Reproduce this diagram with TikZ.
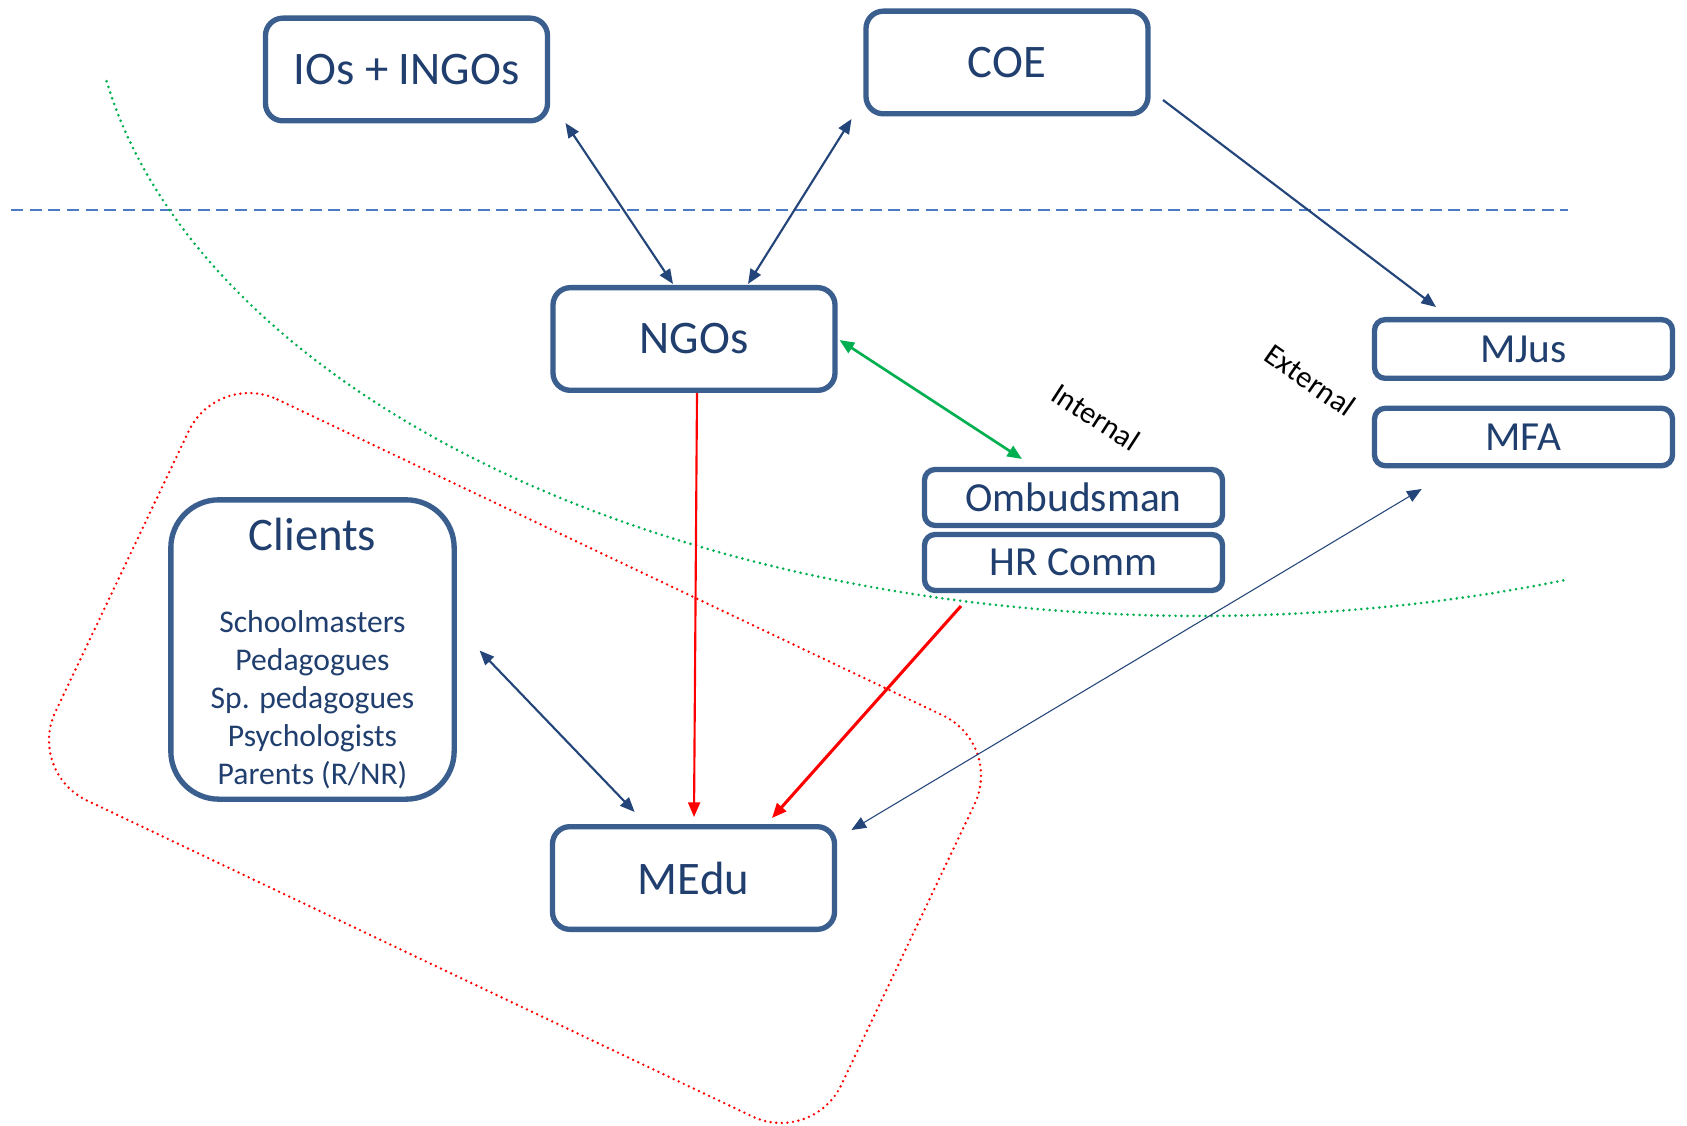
\documentclass[tikz,border=0pt]{standalone}
\usepackage{fontspec}
\setmainfont{Carlito}
\usetikzlibrary{arrows.meta}
\definecolor{boxline}{HTML}{3A5F8F}
\definecolor{boxtext}{HTML}{203F6E}
\definecolor{arrblue}{HTML}{24457A}
\definecolor{dashblue}{HTML}{4A7BC4}
\definecolor{grn}{HTML}{00B050}
\definecolor{rd}{HTML}{FF0000}
\begin{document}
\begin{tikzpicture}[x=0.75pt,y=-0.75pt,
  bigbox/.style={draw=boxline, line width=4pt, fill=white, rounded corners=13pt,
    minimum width=211.5pt, minimum height=77pt, text=boxtext,
    font=\fontsize{35}{42}\selectfont, inner sep=0pt},
  smallbox/.style={draw=boxline, line width=4pt, fill=white, rounded corners=8pt,
    minimum width=223.5pt, minimum height=42pt, text=boxtext,
    font=\fontsize{31}{37}\selectfont, inner sep=0pt},
  clientbox/.style={draw=boxline, line width=4pt, fill=white, rounded corners=36pt,
    minimum width=212.5pt, minimum height=224.5pt, inner sep=0pt},
  titletext/.style={text=boxtext, font=\fontsize{35}{42}\selectfont, inner sep=0pt, anchor=base},
  listtext/.style={text=boxtext, font=\fontsize{23.7}{28.5}\selectfont, inner sep=0pt, anchor=base},
  sidelabel/.style={text=black, font=\fontsize{23}{27}\selectfont, inner sep=0pt},
  tipA/.tip={Triangle[length=11pt,width=9pt]},
  bluearrow/.style={draw=arrblue, line width=1.6pt},
  thinarrow/.style={draw=arrblue, line width=0.8pt},
  greenarrow/.style={draw=grn, line width=2pt},
  redthin/.style={draw=rd, line width=1.6pt},
  redthick/.style={draw=rd, line width=2.3pt},
  grndot/.style={draw=grn, line width=2.2pt, dash pattern=on 0pt off 4.5pt, line cap=round},
  reddot/.style={draw=rd, line width=2pt, dash pattern=on 0pt off 4.2pt, line cap=round},
  divider/.style={draw=dashblue, line width=1.6pt, dash pattern=on 9pt off 5pt}
]
\useasboundingbox (0,0) rectangle (1687,1126);
\fill[white] (0,0) rectangle (1687,1126);

% dashed divider
\coordinate (dl) at (11,210);
\coordinate (dr) at (1568,210);
\draw[divider] (dl) -- (dr);

% green dotted arc
\draw[grndot] plot[domain=70.9:170.3, samples=150, smooth]
  ({1200+1110*cos(\x)},{-30+646*sin(\x)});

% red dotted rounded region
\draw[reddot, rounded corners=50pt, rotate around={-25.4:(515,758)}]
  (80,536) -- (950,536) -- (950,980) -- (80,980) -- cycle;

% boxes
\node[bigbox] (ios) at (406.5,69.5) {IOs + INGOs};
\node[bigbox] (coe) at (1007,62.5) {COE};
\node[bigbox] (ngos) at (694,339) {NGOs};
\node[bigbox] (medu) at (693.5,878) {MEdu};
\node[smallbox, minimum height=44pt] (mjus) at (1523.5,349) {MJus};
\node[smallbox, minimum height=43pt] (mfa) at (1523.5,437) {MFA};
\node[smallbox] (omb) at (1073.5,497.5) {Ombudsman};
\node[smallbox] (hr) at (1073.5,562.5) {HR Comm};
\node[clientbox] (clients) at (312.5,649.5) {};
\node[titletext] (ctitle) at (312.5,550) {Clients};
\foreach \t [count=\i from 0] in {Schoolmasters, Pedagogues, Sp. pedagogues, Psychologists, Parents (R/NR)}
  \node[listtext] (li\i) at (312.5,{632+38*\i}) {\t};

% side labels
\node[sidelabel, rotate=-33] (internal) at (1096,417) {Internal};
\node[sidelabel, rotate=-35] (external) at (1310,380) {External};

% connector end points
\coordinate (ios-e) at (565.5,123);
\coordinate (ngos-a) at (673,284);
\coordinate (coe-e) at (851.5,119);
\coordinate (ngos-b) at (748,284);
\coordinate (coe-r) at (1163,100);
\coordinate (mjus-e) at (1436,307);
\coordinate (ngos-r) at (839.5,340);
\coordinate (omb-e) at (1022,459);
\coordinate (ngos-s) at (697,393);
\coordinate (medu-a) at (694,817);
\coordinate (hr-e) at (961,606);
\coordinate (medu-b) at (772,818);
\coordinate (clients-e) at (479.6,650.5);
\coordinate (medu-c) at (634.6,812);
\coordinate (mfa-e) at (1421.7,489);
\coordinate (medu-d) at (851.4,830);

% connectors
\draw[bluearrow, tipA-tipA] (ios-e) -- (ngos-a);
\draw[bluearrow, tipA-tipA] (coe-e) -- (ngos-b);
\draw[bluearrow, -tipA] (coe-r) -- (mjus-e);
\draw[greenarrow, tipA-tipA] (ngos-r) -- (omb-e);
\draw[redthin, -tipA] (ngos-s) -- (medu-a);
\draw[redthick, -tipA] (hr-e) -- (medu-b);
\draw[bluearrow, tipA-tipA] (clients-e) -- (medu-c);
\draw[thinarrow, tipA-tipA] (mfa-e) -- (medu-d);
\end{tikzpicture}
\end{document}
